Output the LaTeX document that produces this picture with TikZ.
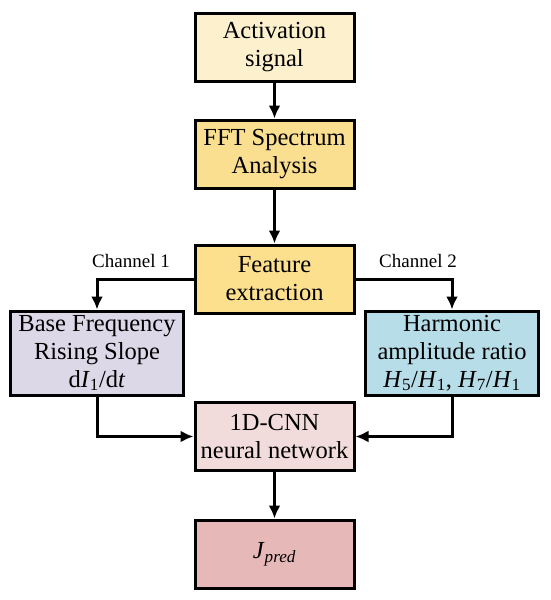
\documentclass[tikz,border=0pt]{standalone}
\usepackage{fontspec}
\setmainfont{Liberation Serif}
\usetikzlibrary{arrows.meta}
\definecolor{cAct}{HTML}{FDF0CC}
\definecolor{cFFT}{HTML}{FADF90}
\definecolor{cFeat}{HTML}{FCE08E}
\definecolor{cLeft}{HTML}{DDD8E8}
\definecolor{cRight}{HTML}{B7DEE8}
\definecolor{cCNN}{HTML}{F2DCDB}
\definecolor{cJ}{HTML}{E6B9B8}
\newcommand{\vi}[1]{\textit{#1}}
\newcommand{\sbs}[1]{\textsubscript{#1}}
\begin{document}
\begin{tikzpicture}[x=1pt,y=-1pt,
  box/.style={draw=black,line width=3pt,minimum width=159pt,minimum height=68pt,inner sep=0pt,align=center,font=\fontsize{24.5}{28}\selectfont},
  sidebox/.style={box,minimum width=173pt,minimum height=84pt},
  arr/.style={line width=3pt,-{Latex[length=13pt,width=12pt]}},
  lbl/.style={font=\fontsize{19}{22}\selectfont}]
\useasboundingbox (0,0) rectangle (550,600);
\node[box,fill=cAct] (act) at (274.5,47.5) {Activation\\signal};
\node[box,fill=cFFT] (fft) at (274.5,154) {FFT Spectrum\\Analysis};
\node[box,fill=cFeat] (feat) at (274.5,279) {Feature\\extraction};
\node[sidebox,fill=cLeft] (left) at (97,353) {Base Frequency\\Rising Slope\\d\vi{I}\sbs{1}/d\vi{t}};
\node[sidebox,fill=cRight] (right) at (452,353) {Harmonic\\amplitude ratio\\\vi{H}\sbs{5}/\vi{H}\sbs{1}, \vi{H}\sbs{7}/\vi{H}\sbs{1}};
\node[box,fill=cCNN] (cnn) at (274.5,436.5) {1D-CNN\\neural network};
\node[box,fill=cJ] (j) at (274.5,554) {\vi{J}\sbs{\vi{pred}}};
\draw[arr] (act) -- (fft);
\draw[arr] (fft) -- (feat);
\draw[arr] (feat.west) -| (left.north);
\draw[arr] (feat.east) -| (right.north);
\draw[arr] (left.south) |- (cnn.west);
\draw[arr] (right.south) |- (cnn.east);
\draw[arr] (cnn) -- (j);
\node[lbl] (ch1) at (131,261) {Channel 1};
\node[lbl] (ch2) at (418,261) {Channel 2};
\end{tikzpicture}
\end{document}
